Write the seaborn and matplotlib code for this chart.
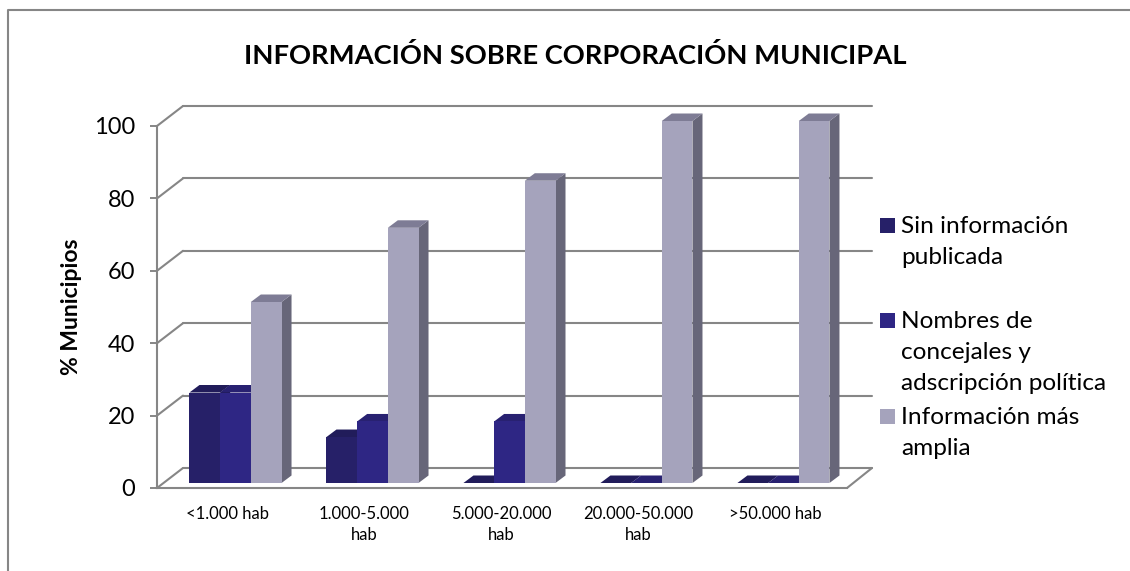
import pandas as pd
import seaborn as sns
from matplotlib import pyplot as plt
from matplotlib.lines import Line2D
from matplotlib.patches import Polygon, Rectangle
from matplotlib.transforms import Affine2D, IdentityTransform

categories = ['<1.000 hab', '1.000-5.000\nhab', '5.000-20.000\nhab', '20.000-50.000\nhab', '>50.000 hab']
series_names = ['Sin información publicada', 'Nombres de concejales y adscripción política', 'Información más amplia']
sin_info = [25, 12.7, 0, 0, 0]
nombres = [25, 17, 17, 0, 0]
mas_amplia = [50, 70.5, 83.5, 100, 100]
y_ticks = [0, 20, 40, 60, 80, 100]
legend_labels = ['Sin información\npublicada', 'Nombres de\nconcejales y\nadscripción política', 'Información más\namplia']

W, H = 1130, 571
front = ['#262068', '#2E2684', '#A5A3BC']
side = ['#1C184F', '#221C63', '#676679']
top = ['#211C5A', '#282171', '#7E7C95']
GRID = '#868686'

sns.set_theme(style='white')
plt.rcParams['font.family'] = ['Lato', 'DejaVu Sans']

df = pd.DataFrame({'cat': categories * 3,
                   'serie': [s for s in series_names for _ in categories],
                   'valor': sin_info + nombres + mas_amplia})

fig = plt.figure(figsize=(W / 100, H / 100), dpi=100, facecolor='white')
ax = fig.add_axes([157 / W, (H - 488) / H, 690 / W, 362 / H], facecolor='none')
sns.barplot(data=df, x='cat', y='valor', hue='serie', hue_order=series_names, palette=dict(zip(series_names, front)),
            width=0.672, gap=0, saturation=1, linewidth=0, legend=False, ax=ax, zorder=5)
ax.set_xlim(-0.511, 4.526)
ax.set_ylim(0, 100)
ax.set_yticks(y_ticks)
ax.set_xlabel('')
ax.set_ylabel('% Municipios', fontsize=16.5, fontweight='bold', color='black', labelpad=8)
ax.tick_params(axis='y', labelsize=17, colors='black', length=5, width=1.4, color=GRID, left=True, pad=11)
ax.tick_params(axis='x', labelsize=12, colors='black', length=0, pad=13)
for lab in ax.get_yticklabels():
    lab.set_color('black')
for lab in ax.get_xticklabels():
    lab.set_linespacing(1.38)
for s in ['top', 'right']:
    ax.spines[s].set_visible(False)
for s in ['left', 'bottom']:
    ax.spines[s].set_color(GRID)
    ax.spines[s].set_linewidth(1.5)


def px_line(xs, ys, **kw):
    ax.add_line(Line2D(xs, ys, transform=IdentityTransform(), color=GRID, lw=1.5, clip_on=False, zorder=1, **kw))


# back wall and floor, built from the y scale
x0, x1 = ax.transData.transform([(ax.get_xlim()[0], 0), (ax.get_xlim()[1], 0)])[:, 0]
y_floor = ax.transData.transform((0, 0))[1]
for t in y_ticks:
    yp = ax.transData.transform((0, t))[1]
    px_line([x0, x0 + 26], [yp, yp + 20])
    px_line([x0 + 26, x1 + 25], [yp + 20, yp + 20])
px_line([x1, x1 + 25], [y_floor, y_floor + 20])

# fake 3d: push bars back and add side and top faces
shift = Affine2D().translate(8.5, 5)
dx, dy = 10, 7.5
for i, cont in enumerate(ax.containers):
    for bar in cont:
        bar.set_transform(ax.transData + shift)
        bar.set_clip_on(False)
        bar.set_zorder(5 + i * 3)
        (xa, ya), (xb, yb) = (ax.transData + shift).transform(
            [(bar.get_x(), 0), (bar.get_x() + bar.get_width(), bar.get_height())])
        ax.add_patch(Polygon([(xb, ya), (xb + dx, ya + dy), (xb + dx, yb + dy), (xb, yb)], closed=True, fc=side[i],
                             lw=0, transform=IdentityTransform(), clip_on=False, zorder=4 + i * 3))
        ax.add_patch(Polygon([(xa, yb), (xa + dx, yb + dy), (xb + dx, yb + dy), (xb, yb)], closed=True, fc=top[i],
                             lw=0, transform=IdentityTransform(), clip_on=False, zorder=4 + i * 3))

fig.text(575 / W, 1 - 55 / H, 'INFORMACIÓN SOBRE CORPORACIÓN MUNICIPAL', ha='center', va='center',
         fontsize=19.7, fontweight='bold', color='black')

# legend rows have uneven gaps in the original, so place them by hand
for lab, col, yt in zip(legend_labels, front, [225, 320, 416]):
    fig.add_artist(Rectangle((880 / W, 1 - (yt + 7.5) / H), 15 / W, 15 / H, fc=col, lw=0, transform=fig.transFigure))
    fig.text(901 / W, 1 - (yt - 9) / H, lab, ha='left', va='top', fontsize=17.6, color='black', linespacing=1.6)

# chart border: only left and top edges are in the picture
fig.add_artist(Line2D([8 / W, 8 / W, 1], [0, 1 - 9.5 / H, 1 - 9.5 / H], color=GRID, lw=1.5, transform=fig.transFigure))

fig.savefig('out.png', dpi=100)
